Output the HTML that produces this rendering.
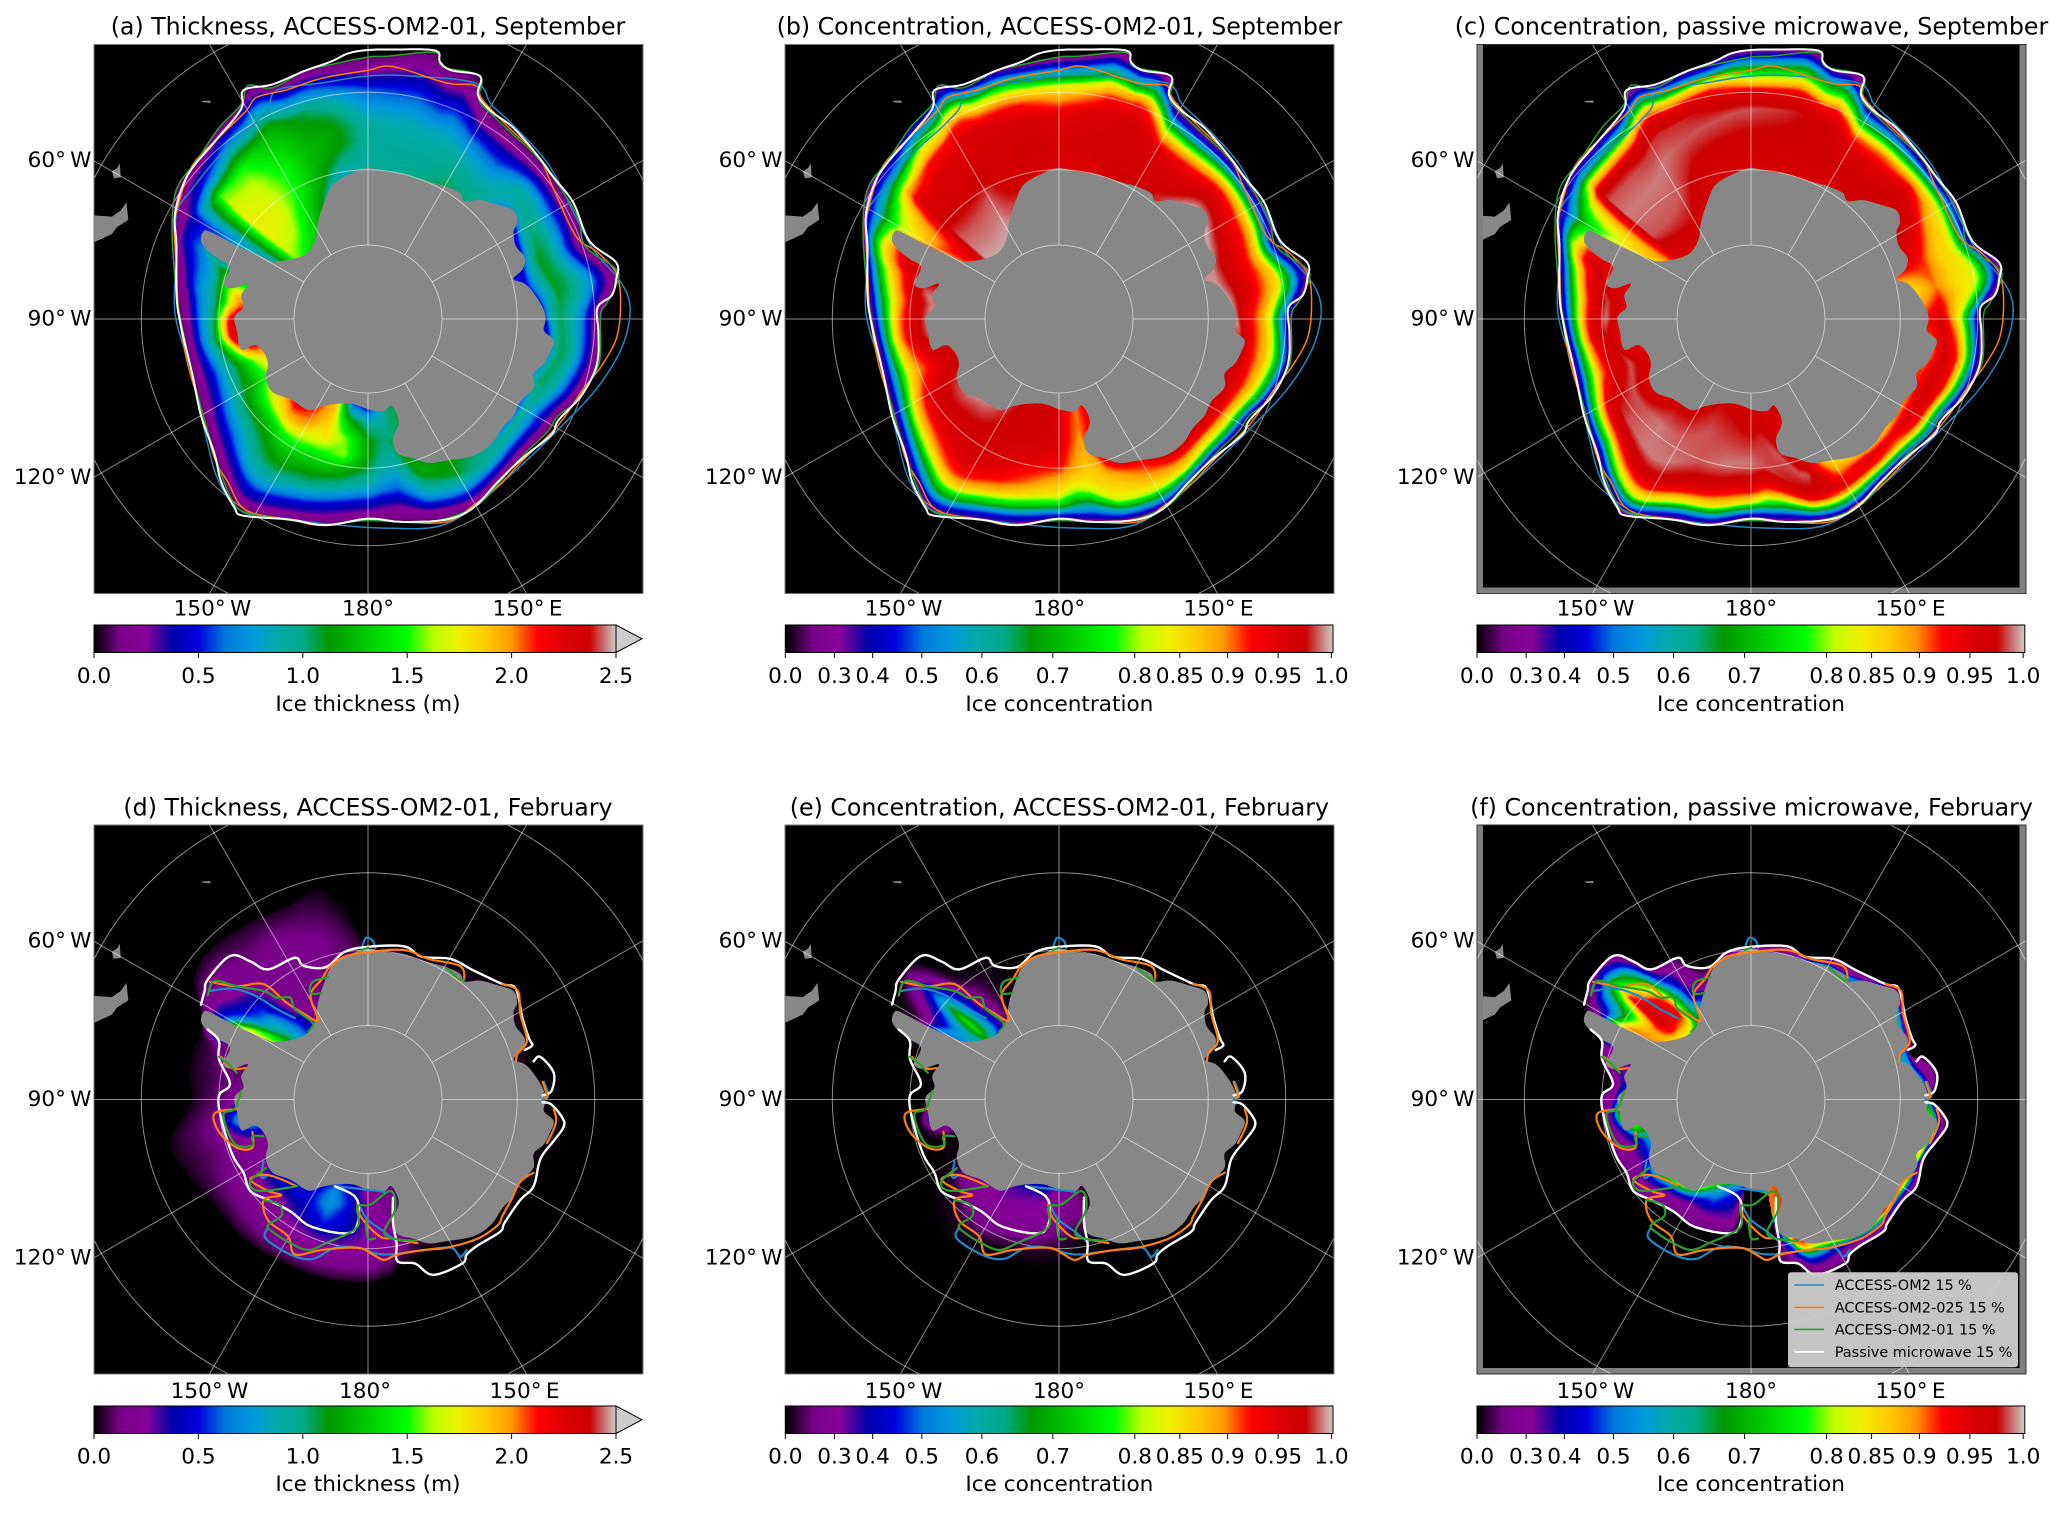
<!DOCTYPE html>
<html lang="en">
<head>
<meta charset="utf-8">
<title>Antarctic sea ice thickness and concentration maps</title>
<style>
html,body{margin:0;padding:0;background:#fff;overflow:hidden;}
#figure-root{position:relative;width:2067px;height:1513px;overflow:hidden;background:#fff;}
canvas{position:absolute;display:block;background:#000;}
#figure{position:absolute;left:0;top:0;display:block;}
text{font-family:"DejaVu Sans","Liberation Sans",sans-serif;fill:#000;}
.title{font-size:23.7px;text-anchor:middle;}
.label{font-size:21.6px;text-anchor:middle;}
.tick{font-size:21.6px;word-spacing:-0.12em;}
.legend-text{font-size:14.5px;word-spacing:-0.02em;}
</style>
</head>
<body>
<div id="figure-root">
<canvas id="field-a" width="549" height="550" style="left:94px;top:44px"></canvas>
<canvas id="field-b" width="549" height="550" style="left:785px;top:44px"></canvas>
<canvas id="field-c" width="549" height="550" style="left:1477px;top:44px"></canvas>
<canvas id="field-d" width="549" height="549" style="left:94px;top:825px"></canvas>
<canvas id="field-e" width="549" height="549" style="left:785px;top:825px"></canvas>
<canvas id="field-f" width="549" height="549" style="left:1477px;top:825px"></canvas>
<svg id="figure" width="2067" height="1513" viewBox="0 0 2067 1513" xmlns="http://www.w3.org/2000/svg">
  <defs id="defs"></defs>
  <g id="map-layer"></g>
  <g>
    <text class="title" x="368" y="34.6">(a) Thickness, ACCESS-OM2-01, September</text>
    <text class="title" x="1059.4" y="34.6">(b) Concentration, ACCESS-OM2-01, September</text>
    <text class="title" x="1751.5" y="34.6">(c) Concentration, passive microwave, September</text>
    <text class="title" x="368" y="815.6">(d) Thickness, ACCESS-OM2-01, February</text>
    <text class="title" x="1059.4" y="815.6">(e) Concentration, ACCESS-OM2-01, February</text>
    <text class="title" x="1751.5" y="815.6">(f) Concentration, passive microwave, February</text>
  </g>
  <g>
    <text class="label" x="368" y="711">Ice thickness (m)</text>
    <text class="label" x="1059.4" y="711">Ice concentration</text>
    <text class="label" x="1751" y="711">Ice concentration</text>
    <text class="label" x="368" y="1491">Ice thickness (m)</text>
    <text class="label" x="1059.4" y="1491">Ice concentration</text>
    <text class="label" x="1751" y="1491">Ice concentration</text>
  </g>
  <g>
    <rect x="1788" y="1272.3" width="230" height="95" rx="3" ry="3" fill="#cccccc" fill-opacity="0.96"/>
    <line x1="1794.3" x2="1824" y1="1285" y2="1285" stroke="#2088c8" stroke-width="1.6"/>
    <text class="legend-text" x="1834.7" y="1290">ACCESS-OM2 15 %</text>
    <line x1="1794.3" x2="1824" y1="1307.4" y2="1307.4" stroke="#ff7f0e" stroke-width="1.6"/>
    <text class="legend-text" x="1834.7" y="1312.4">ACCESS-OM2-025 15 %</text>
    <line x1="1794.3" x2="1824" y1="1329.4" y2="1329.4" stroke="#2ca02c" stroke-width="1.6"/>
    <text class="legend-text" x="1834.7" y="1334.4">ACCESS-OM2-01 15 %</text>
    <line x1="1794.3" x2="1824" y1="1351.8" y2="1351.8" stroke="#ffffff" stroke-width="1.8"/>
    <text class="legend-text" x="1834.7" y="1356.8">Passive microwave 15 %</text>
  </g>
</svg>
</div>
<script>
/* ---- colour scale and tick data ---- */
const cmapColors = ["#000000","#770088","#880099","#0000aa","#0000dd","#0077dd","#0099dd","#00aaaa","#00aa88","#009900","#00bb00","#00dd00","#00ff00","#bbff00","#eeee00","#ffcc00","#ff9900","#ff0000","#dd0000","#cc0000","#cccccc"];
const thicknessTicks = [0,0.5,1,1.5,2,2.5];
const thicknessTickLabels = ["0.0","0.5","1.0","1.5","2.0","2.5"];
const concentrationTicks = [0,0.3,0.4,0.5,0.6,0.7,0.8,0.85,0.9,0.95,1];
const concentrationTickLabels = ["0.0","0.3","0.4","0.5","0.6","0.7","0.8","0.85","0.9","0.95","1.0"];
const latCircles = [-80,-70,-60,-50];
const lonSpokes = [0,30,60,90,120,150,180,210,240,270,300,330];
const bottomLonTicks = [210,180,150];
const bottomLonLabels = ["150° W","180°","150° E"];
const leftLonTicks = [300,270,240];
const leftLonLabels = ["60° W","90° W","120° W"];

/* ---- geography, in map grid units (about 7 km each), pole at POLE_U / POLE_V ---- */
const landCoast = [[824,355],[860,362],[905,368],[935,378],[975,388],[1000,395],[1030,408],[1040,425],[1075,423],[1115,433],[1150,445],[1158,470],[1150,490],[1155,520],[1175,545],[1170,570],[1150,590],[1175,600],[1195,620],[1215,650],[1222,675],[1218,700],[1240,720],[1232,745],[1218,770],[1195,790],[1195,820],[1165,850],[1150,880],[1125,905],[1100,940],[1060,965],[1000,975],[960,980],[925,970],[890,960],[880,930],[892,900],[890,880],[875,858],[860,870],[830,868],[790,855],[750,855],[720,860],[690,868],[650,845],[610,830],[595,800],[600,770],[590,745],[570,730],[540,740],[530,700],[525,670],[545,650],[540,625],[555,600],[520,610],[500,600],[515,565],[490,548],[465,530],[450,510],[455,490],[470,490],[530,520],[590,545],[620,553],[680,540],[705,510],[712,470],[725,430],[745,390],[790,365],[824,355]];
const southAmerica = [[205,455],[250,458],[270,445],[283,428],[287,465],[262,480],[250,495],[205,515]];
const southGeorgia = [[250,362],[262,355],[268,345],[270,375],[255,377]];
const smallIsland = [[450,213],[470,212],[472,217],[455,216]];

/* ---- September 15% ice edges ---- */
const sepWhite = [[740,130],[780,112],[824,105],[880,104],[975,106],[985,130],[1010,148],[1075,160],[1070,200],[1100,235],[1150,270],[1205,330],[1240,375],[1285,430],[1320,510],[1380,555],[1380,590],[1370,625],[1338,650],[1340,700],[1340,750],[1330,790],[1300,840],[1250,890],[1235,920],[1170,970],[1115,1020],[1060,1075],[1000,1100],[900,1105],[824,1098],[730,1112],[650,1100],[545,1092],[525,1075],[495,1020],[480,960],[450,880],[430,790],[405,690],[395,625],[395,520],[392,450],[420,370],[480,300],[540,230],[545,190],[610,178],[680,150],[740,130]];
const sepGreen = [[745,135],[824,120],[870,118],[975,110],[990,140],[1075,160],[1072,210],[1100,240],[1150,285],[1210,340],[1290,450],[1310,520],[1375,565],[1385,590],[1360,640],[1345,665],[1345,740],[1335,785],[1290,850],[1250,880],[1225,915],[1170,965],[1115,1025],[1060,1075],[960,1105],[824,1102],[730,1110],[640,1100],[550,1085],[520,1060],[490,990],[455,880],[430,790],[405,680],[395,620],[385,490],[395,400],[440,340],[490,270],[540,220],[555,180],[610,185],[680,150],[745,135]];
const sepOrange = [[640,190],[720,165],[824,148],[880,140],[1000,175],[1065,180],[1080,210],[1140,270],[1205,330],[1240,400],[1290,500],[1340,535],[1385,590],[1385,700],[1350,770],[1305,825],[1250,900],[1170,975],[1115,1030],[1060,1070],[1000,1105],[900,1105],[824,1100],[720,1112],[650,1100],[550,1080],[510,1020],[480,970],[455,880],[420,770],[400,660],[395,560],[390,480],[400,430],[430,350],[490,290],[550,235],[575,205],[640,190]];
const sepBlue = [[620,190],[720,175],[824,160],[920,160],[1065,175],[1100,220],[1150,265],[1230,350],[1290,460],[1330,530],[1385,590],[1410,640],[1405,700],[1380,760],[1330,830],[1260,900],[1190,965],[1115,1030],[1060,1075],[980,1115],[860,1118],[760,1112],[650,1100],[545,1085],[490,1020],[460,920],[430,790],[400,700],[390,640],[395,540],[395,450],[430,400],[490,330],[560,270],[600,230],[620,190]];

/* ---- February 15% ice edges (several fragments each) ---- */
const febWhiteWest = [[465,505],[490,530],[490,570],[515,625],[490,650],[495,700],[520,780],[545,820],[560,860],[600,880],[650,905],[700,940],[790,950],[800,880],[750,850]];
const febWhiteEast = [[880,875],[880,930],[888,975],[890,1015],[930,1020],[970,1045],[1035,1020],[1045,1000],[1070,980],[1120,950],[1130,930],[1165,880],[1195,850],[1210,790],[1240,750],[1262,720],[1260,700],[1235,670],[1215,665]];
const febWhiteIsle = [[1215,650],[1235,640],[1240,600],[1210,565],[1195,575]];
const febWhiteNorth = [[1175,550],[1192,540],[1185,525],[1170,480],[1155,415],[1125,405],[1060,375],[1010,350],[945,345],[905,322],[824,323],[770,335],[730,368],[680,365],[660,347],[600,373],[560,355],[515,343],[465,395],[458,420],[450,450]];
const febOrangeNorth = [[735,370],[770,345],[824,335],[905,330],[960,350],[1030,365],[1040,395]];
const febOrangeNorthEast = [[1125,405],[1160,420],[1165,470],[1180,530],[1160,555],[1155,575]];
const febOrangeEastA = [[1215,620],[1225,650],[1220,655]];
const febOrangeEastB = [[1240,680],[1245,710],[1225,755]];
const febOrangeRoss = [[1195,820],[1165,840],[1145,880],[1125,915],[1115,935],[1070,965],[1000,985],[950,990],[890,1000],[860,1012],[835,1000],[800,985],[720,990],[660,1000],[645,960],[600,925],[590,880],[630,870],[600,860],[560,835],[600,825],[665,850]];
const febOrangeBell = [[530,680],[480,690],[490,730],[530,765],[565,765],[565,730]];
const febOrangeWeddell = [[470,400],[530,410],[590,405],[640,445],[680,470],[712,485],[695,430],[720,395],[735,370]];
const febOrangeInner = [[800,890],[810,920],[850,960],[880,965],[935,975]];
const febOrangePeninsula = [[495,565],[520,590],[550,590]];
const febGreenWeddell = [[465,430],[480,398],[530,410],[590,420],[620,435],[650,435],[660,460],[700,490],[690,510]];
const febGreenLoop = [[735,390],[700,400],[695,425],[720,425]];
const febGreenNorth = [[810,330],[825,325]];
const febGreenNorthEast = [[1000,370],[1030,395],[1040,395]];
const febGreenBell = [[540,640],[525,680],[500,690],[510,730],[530,760],[565,760],[565,740],[590,740]];
const febGreenAmundsen = [[595,810],[560,840],[580,860],[665,850]];
const febGreenRoss = [[590,880],[625,890],[630,915],[600,935],[610,950],[650,975],[690,990],[730,975],[800,940],[800,895],[830,890],[875,860],[885,900],[860,950],[880,965],[930,970]];
const febGreenInner = [[820,920],[820,940],[825,965],[840,965]];
const febGreenPeninsula = [[490,565],[510,580],[530,600]];
const febBlueNorth = [[812,320],[820,303],[835,310],[840,325]];
const febBlueWeddell = [[470,420],[520,415],[570,430],[620,460],[660,480]];
const febBlueRoss = [[600,940],[595,965],[650,1000],[700,1010],[750,985],[800,985],[860,1000],[950,990],[1010,985],[1030,1005],[1045,990]];
const febBlueInner = [[800,880],[820,920],[860,950],[885,970]];
const febBlueShelf = [[750,850],[800,855],[860,862]];
const febBlueEast = [[1218,620],[1228,650],[1215,660]];
const febBlueAmundsen = [[590,795],[585,830],[600,825]];

/* ---- outer limits of the February model fields ---- */
const hazeThicknessFeb = [[450,470],[435,390],[470,330],[560,270],[640,235],[710,195],[770,235],[810,300],[850,322],[1000,345],[1130,395],[1175,470],[1190,560],[1210,640],[1230,690],[1230,760],[1195,830],[1120,940],[1000,985],[900,1020],[880,1045],[820,1060],[720,1050],[620,1010],[540,960],[470,880],[400,800],[385,740],[430,660],[420,580],[450,510],[450,470]];
const hazeConcentrationFeb = [[459,470],[459,400],[499,360],[589,370],[679,320],[699,370],[729,400],[824,340],[1019,370],[1119,400],[1159,470],[1169,600],[1219,680],[1209,800],[1109,940],[979,980],[899,1000],[824,1030],[739,1030],[619,1000],[549,950],[499,850],[489,740],[499,700],[519,620],[479,540],[459,470]];

/* ---- gridded fields: one row per 10 degrees of longitude, from 0 eastward;
        one column per fraction of the way from coast to ice edge ---- */
const fractionsThicknessSep = [0,0.14,0.28,0.42,0.56,0.7,0.84,1];
const fractionsConcentrationSep = [0,0.25,0.5,0.65,0.75,0.85,0.92,1];
const fractionsFeb = [0,0.1,0.2,0.3,0.45,0.6,0.8,1];

const thicknessSep = [
[.95,.95,.95,.9,.75,.6,.3,.08],[.95,.95,.9,.85,.7,.5,.3,.1],[1,.95,.9,.85,.65,.45,.25,.08],[1.05,1,.95,.85,.7,.5,.25,.08],
[1,.95,.85,.75,.6,.45,.25,.08],[.7,.85,.9,.9,.75,.5,.25,.08],[.5,.95,1,.9,.7,.5,.25,.08],[.45,.9,1.1,1.05,.85,.6,.3,.08],
[.5,.85,1.1,1.05,.9,.7,.35,.1],[.45,.95,1.05,.95,.8,.6,.3,.08],[.6,1,1.05,.95,.75,.5,.25,.08],[.9,1.05,1,.9,.7,.5,.25,.08],
[.6,.9,.85,.7,.55,.4,.2,.08],[.7,.95,.9,.75,.55,.4,.2,.08],[1,.95,.95,.85,.65,.45,.25,.08],[1.15,1.1,1.1,.95,.8,.55,.3,.08],
[1.1,1.2,1.1,.95,.8,.55,.25,.08],[1,1.05,.95,.85,.7,.5,.25,.08],[.5,.95,1.15,1.15,1.05,.85,.45,.08],[.6,1.2,1.55,1.6,1.2,.9,.45,.08],
[1.9,1.85,1.8,1.45,1.2,.95,.5,.08],[2.1,2,1.6,1.3,1.1,.85,.45,.08],[2.2,1.9,1.4,1.15,1,.8,.4,.08],[1.8,1.55,1.25,1.05,.85,.6,.35,.08],
[1.5,1.3,1.15,1,.8,.55,.3,.08],[1.8,1.6,1.3,1.05,.85,.55,.3,.08],[2.3,2.1,1.6,1.1,.85,.6,.3,.08],[2.3,2.15,1.7,1,.8,.55,.25,.08],
[1.9,1.6,1.15,.9,.75,.55,.25,.08],[1,.9,.7,.6,.5,.4,.2,.08],[.8,.7,.6,.55,.5,.4,.2,.08],[1.6,1.7,1.75,1.75,1.7,1.55,.6,.08],
[1.4,1.6,1.7,1.7,1.65,1.5,.9,.08],[1.3,1.4,1.5,1.5,1.4,1.25,.85,.1],[1.05,1.2,1.25,1.25,1.2,1.1,.7,.1],[.8,1,1.15,1.15,1.05,.85,.5,.1]];

const concentrationModelSep = [
[.95,.96,.94,.88,.82,.6,.45,.25],[.95,.96,.95,.9,.82,.6,.45,.25],[.97,.96,.96,.94,.88,.65,.5,.28],[.97,.96,.95,.88,.78,.6,.45,.28],
[.98,.96,.94,.88,.78,.6,.45,.28],[.995,.97,.93,.87,.78,.6,.45,.28],[.995,.96,.92,.87,.78,.6,.45,.28],[.99,.96,.93,.88,.8,.6,.45,.28],
[.995,.96,.9,.85,.72,.55,.42,.3],[.995,.93,.88,.8,.65,.5,.4,.28],[.97,.92,.87,.8,.7,.55,.45,.3],[.97,.94,.88,.82,.72,.58,.45,.3],
[.97,.94,.87,.8,.7,.55,.45,.3],[.96,.93,.85,.8,.7,.55,.45,.3],[.96,.92,.87,.82,.72,.55,.45,.3],[.93,.9,.86,.8,.7,.55,.45,.3],
[.95,.88,.85,.82,.72,.55,.45,.28],[.9,.88,.86,.82,.72,.55,.45,.28],[.95,.96,.93,.88,.85,.76,.55,.3],[.97,.97,.94,.9,.85,.72,.5,.3],
[.97,.97,.95,.92,.87,.72,.5,.3],[.98,.97,.96,.92,.86,.7,.5,.3],[.99,.97,.95,.9,.82,.65,.5,.3],[.99,.97,.94,.88,.8,.62,.47,.3],
[.98,.97,.93,.87,.78,.6,.45,.3],[.97,.95,.9,.85,.75,.58,.45,.3],[.98,.96,.9,.83,.72,.55,.42,.28],[.99,.96,.9,.82,.7,.55,.42,.28],
[.99,.96,.88,.8,.7,.55,.42,.28],[.96,.92,.86,.78,.68,.52,.42,.28],[.9,.85,.8,.72,.62,.5,.4,.28],[.995,.985,.96,.94,.88,.7,.5,.3],
[.995,.985,.96,.95,.92,.82,.6,.35],[.995,.985,.96,.95,.92,.82,.6,.35],[.98,.96,.96,.95,.9,.8,.6,.35],[.96,.97,.96,.92,.86,.72,.5,.3]];

const concentrationObsSep = [
[.96,.97,.985,.95,.84,.68,.5,.28],[.96,.97,.98,.94,.84,.68,.5,.28],[.96,.97,.97,.93,.83,.68,.5,.28],[.96,.97,.95,.9,.8,.62,.47,.28],
[.97,.97,.94,.9,.8,.62,.47,.28],[.97,.97,.94,.87,.78,.6,.45,.28],[.97,.95,.88,.85,.78,.6,.45,.28],[.95,.92,.86,.85,.8,.65,.45,.28],
[.85,.9,.85,.84,.8,.65,.48,.3],[.93,.96,.88,.8,.68,.52,.42,.28],[.9,.96,.92,.85,.72,.55,.42,.28],[.92,.96,.94,.86,.74,.55,.42,.28],
[.9,.96,.93,.85,.72,.55,.42,.28],[.88,.94,.9,.84,.72,.55,.42,.28],[.88,.95,.92,.85,.74,.55,.42,.28],[.85,.9,.95,.88,.76,.58,.44,.28],
[.96,.985,.97,.93,.84,.62,.46,.28],[.96,.985,.98,.94,.85,.65,.46,.28],[.96,.975,.99,.97,.93,.84,.6,.28],[.97,.98,.99,.97,.92,.84,.6,.28],
[.975,.985,.985,.97,.93,.82,.55,.28],[.97,.985,.99,.97,.92,.82,.55,.28],[.97,.99,.99,.96,.9,.78,.52,.28],[.96,.985,.985,.95,.88,.72,.5,.28],
[.95,.985,.97,.94,.86,.72,.5,.28],[.95,.985,.95,.9,.82,.68,.48,.28],[.94,.97,.94,.88,.78,.62,.45,.28],[.95,.99,.95,.88,.78,.62,.45,.28],
[.95,.98,.94,.86,.76,.6,.45,.28],[.95,.96,.9,.84,.74,.58,.45,.28],[.85,.8,.75,.7,.62,.5,.42,.28],[.95,.985,.99,.985,.97,.84,.62,.3],
[.96,.985,.99,.985,.97,.85,.62,.3],[.97,.985,.99,.98,.96,.85,.6,.3],[.96,.97,.985,.98,.95,.84,.6,.3],[.96,.97,.985,.97,.94,.84,.55,.3]];

const thicknessFeb = [
[.03,.03,.03,.02,.02,.02,.01,0],[.03,.03,.03,.02,.01,0,0,0],[.03,.03,.02,.01,0,0,0,0],[.03,.03,.02,.01,0,0,0,0],
[.03,.03,.02,.01,0,0,0,0],[.03,.03,.02,.01,0,0,0,0],[.03,.03,.02,.01,0,0,0,0],[.03,.03,.02,.01,0,0,0,0],
[.03,.02,.01,0,0,0,0,0],[.02,.01,0,0,0,0,0,0],[.02,.01,0,0,0,0,0,0],[.02,.01,0,0,0,0,0,0],
[.02,.01,0,0,0,0,0,0],[.02,.01,0,0,0,0,0,0],[.03,.02,.01,0,0,0,0,0],[.04,.03,.02,.01,0,0,0,0],
[.05,.05,.05,.03,.02,.01,0,0],[.15,.15,.2,.22,.2,.2,.1,.02],[.2,.22,.25,.25,.25,.25,.18,.03],[.4,.45,.5,.45,.42,.3,.18,.03],
[.6,.7,.75,.65,.5,.3,.18,.03],[.45,.5,.45,.4,.3,.22,.15,.03],[.45,.45,.35,.25,.2,.17,.12,.03],[.45,.4,.3,.2,.17,.15,.1,.02],
[.2,.17,.17,.15,.15,.13,.08,.02],[.2,.2,.2,.15,.13,.1,.06,.02],[.8,.65,.4,.2,.12,.1,.06,.02],[.2,.15,.12,.1,.1,.08,.05,.02],
[.1,.1,.12,.1,.08,.06,.04,.01],[.1,.15,.12,.1,.08,.05,.03,.01],[1.7,1.3,1.1,.7,.5,.35,.15,.03],[.9,.85,.78,.6,.42,.22,.15,.03],
[.45,.42,.25,.17,.15,.15,.1,.03],[.15,.12,.12,.12,.15,.15,.12,.03],[.1,.12,.15,.15,.15,.12,.08,.02],[.08,.1,.1,.1,.08,.06,.03,.01]];

const concentrationModelFeb = [
[.03,.02,0,0,0,0,0,0],[.03,.02,0,0,0,0,0,0],[.03,.02,0,0,0,0,0,0],[.03,.02,0,0,0,0,0,0],
[.02,.01,0,0,0,0,0,0],[.02,.01,0,0,0,0,0,0],[.02,.01,0,0,0,0,0,0],[.02,.01,0,0,0,0,0,0],
[.01,0,0,0,0,0,0,0],[.01,0,0,0,0,0,0,0],[.01,0,0,0,0,0,0,0],[.01,0,0,0,0,0,0,0],
[.01,0,0,0,0,0,0,0],[.01,0,0,0,0,0,0,0],[.01,0,0,0,0,0,0,0],[.01,0,0,0,0,0,0,0],
[.03,.02,.01,0,0,0,0,0],[.25,.25,.2,.2,.15,.1,.05,0],[.28,.28,.28,.3,.28,.2,.1,.02],[.42,.38,.32,.32,.3,.25,.12,.02],
[.4,.35,.32,.32,.3,.25,.1,.02],[.33,.33,.32,.3,.28,.22,.1,.02],[.3,.3,.3,.28,.22,.15,.08,.02],[.25,.25,.22,.15,.1,.06,.04,.01],
[.1,.08,.08,.06,.05,.03,.02,0],[.05,.05,.04,.03,.02,.01,0,0],[.45,.42,.35,.3,.2,.1,.03,0],[.12,.1,.08,.06,.04,.02,0,0],
[.05,.05,.04,.03,.02,.01,0,0],[.05,.05,.04,.03,.02,.01,0,0],[.5,.4,.3,.25,.15,.1,.05,0],[.68,.74,.76,.74,.66,.52,.35,.15],
[.42,.44,.4,.34,.3,.25,.12,.02],[.1,.1,.12,.12,.1,.1,.06,.02],[.08,.08,.08,.06,.05,.04,.02,0],[.04,.04,.03,.02,.01,0,0,0]];

const concentrationObsFeb = [
[.35,.33,.3,.3,.3,.3,.28,.15],[.35,.33,.3,.3,.3,.3,.28,.15],[.4,.35,.32,.3,.3,.3,.28,.15],[.7,.55,.45,.35,.3,.3,.28,.15],
[.5,.45,.35,.3,.3,.3,.28,.15],[.45,.4,.35,.3,.3,.3,.28,.15],[.6,.5,.4,.35,.3,.3,.28,.15],[.5,.45,.35,.32,.3,.3,.28,.15],
[.6,.5,.42,.35,.3,.3,.28,.15],[.6,.55,.5,.42,.35,.3,.28,.15],[.92,.88,.8,.65,.5,.38,.3,.15],[.8,.7,.55,.45,.38,.32,.28,.15],
[.85,.8,.7,.55,.45,.35,.3,.15],[.92,.88,.8,.65,.5,.38,.3,.15],[.85,.7,.55,.45,.38,.32,.28,.15],[.85,.7,.55,.42,.35,.3,.28,.15],
[.92,.9,.87,.78,.55,.42,.3,.18],[.9,.86,.78,.58,.45,.38,.3,.2],[.3,.3,.28,.25,.2,.15,.1,.05],[.6,.5,.45,.42,.38,.35,.3,.2],
[.75,.6,.55,.5,.45,.35,.3,.2],[.8,.65,.55,.45,.35,.3,.28,.2],[.8,.7,.55,.45,.35,.3,.28,.2],[.7,.6,.5,.45,.35,.3,.28,.2],
[.45,.42,.35,.35,.32,.3,.28,.2],[.55,.5,.45,.4,.35,.3,.28,.2],[.85,.8,.7,.55,.42,.35,.3,.2],[.45,.45,.42,.35,.3,.3,.28,.2],
[.35,.33,.3,.3,.3,.28,.25,.15],[.3,.3,.3,.3,.3,.28,.25,.15],[.9,.85,.8,.7,.5,.35,.25,.1],[.85,.93,.96,.96,.96,.92,.75,.3],
[.8,.88,.92,.93,.9,.75,.5,.25],[.6,.55,.45,.4,.35,.3,.28,.2],[.2,.2,.2,.2,.2,.2,.15,.1],[.3,.3,.3,.3,.3,.28,.25,.1]];

/* ---- axis functions ---- */
const POLE_U = 824;
const POLE_V = {sep:675, feb:659};
const UNITS_PER_PX_X = 2.24;
const UNITS_PER_PX_Y = {sep:2.119, feb:2.2};
const STEREO_K = 846;
const DEG = Math.PI/180;
function relX(u){ return (u-POLE_U)/UNITS_PER_PX_X; }
function relY(v,season){ return (v-POLE_V[season])/UNITS_PER_PX_Y[season]; }
function radiusForLat(lat){ return STEREO_K*Math.tan((90+lat)/2*DEG); }
function thicknessNorm(v){ return Math.min(v/2.5,1); }
function concentrationNorm(c){ return Math.min(c*c,1); }
function hexRgb(h){ return [parseInt(h.slice(1,3),16),parseInt(h.slice(3,5),16),parseInt(h.slice(5,7),16)]; }
function colourAt(f){
  const p = Math.max(0,Math.min(1,f))*(cmapColors.length-1);
  const i = Math.min(Math.floor(p),cmapColors.length-2);
  const t = p-i, a = hexRgb(cmapColors[i]), b = hexRgb(cmapColors[i+1]);
  return [a[0]+(b[0]-a[0])*t,a[1]+(b[1]-a[1])*t,a[2]+(b[2]-a[2])*t];
}
/* Catmull-Rom densification so ice edges and coast read as curves */
function curve(pts){
  const closed = pts.length>3 && pts[0][0]===pts[pts.length-1][0] && pts[0][1]===pts[pts.length-1][1];
  const n = pts.length, out = [];
  const at = function(i){
    if(closed){ const m=n-1; return pts[((i%m)+m)%m]; }
    return pts[Math.max(0,Math.min(n-1,i))];
  };
  for(let i=0;i<n-1;i++){
    const p0=at(i-1),p1=at(i),p2=at(i+1),p3=at(i+2);
    for(let k=0;k<5;k++){
      const t=k/5,t2=t*t,t3=t2*t;
      out.push([
        0.5*(2*p1[0]+(p2[0]-p0[0])*t+(2*p0[0]-5*p1[0]+4*p2[0]-p3[0])*t2+(3*p1[0]-p0[0]-3*p2[0]+p3[0])*t3),
        0.5*(2*p1[1]+(p2[1]-p0[1])*t+(2*p0[1]-5*p1[1]+4*p2[1]-p3[1])*t2+(3*p1[1]-p0[1]-3*p2[1]+p3[1])*t3)
      ]);
    }
  }
  out.push(pts[n-1]);
  return out;
}
function rayTable(poly,season){
  const pts = poly.map(function(p){ return [relX(p[0]),relY(p[1],season)]; });
  const table = new Float32Array(720);
  let last = 0;
  for(let i=0;i<720;i++){
    const dx = Math.sin(i/2*DEG), dy = -Math.cos(i/2*DEG);
    let best = 0;
    for(let k=0;k<pts.length-1;k++){
      const ax=pts[k][0], ay=pts[k][1], ex=pts[k+1][0]-ax, ey=pts[k+1][1]-ay;
      const den = dx*ey-dy*ex;
      if(Math.abs(den)<1e-9) continue;
      const t=(ax*ey-ay*ex)/den, w=(ax*dy-ay*dx)/den;
      if(w>=0&&w<=1&&t>0&&t>best) best=t;
    }
    if(best===0) best=last;
    table[i]=best; last=best;
  }
  return table;
}
function smoothTable(table,halfWindow){
  const out = new Float32Array(720);
  for(let i=0;i<720;i++){
    let sum=0;
    for(let k=-halfWindow;k<=halfWindow;k++) sum+=table[(i+k+720)%720];
    out[i]=sum/(2*halfWindow+1);
  }
  return out;
}
const landCurve = curve(landCoast);
const coastTable = rayTable(landCurve,'sep');
const coastSmooth = smoothTable(coastTable,12);
function paintField(canvas,rows,fractions,norm,edgeTable,cx,cy){
  const ctx = canvas.getContext('2d');
  const w = canvas.width, h = canvas.height;
  const img = ctx.createImageData(w,h);
  const d = img.data;
  const edgeSmooth = smoothTable(edgeTable,6);
  for(let y=0;y<h;y++){
    for(let x=0;x<w;x++){
      const o=(y*w+x)*4;
      d[o+3]=255;
      const dx=x+0.5-cx, dy=y+0.5-cy, r=Math.hypot(dx,dy);
      let b=Math.atan2(dx,-dy)/DEG; if(b<0) b+=360;
      const idx=Math.round(b*2)%720;
      const edge=edgeTable[idx];
      if(r>edge||edge<=coastTable[idx]) continue;
      const cs=coastSmooth[idx], es=Math.max(edgeSmooth[idx],cs+6);
      const s=Math.max(0,Math.min(1,(r-cs)/(es-cs)));
      let k=0; while(k<fractions.length-2&&s>fractions[k+1]) k++;
      const ts=(s-fractions[k])/(fractions[k+1]-fractions[k]);
      const rowPos=b/10, i0=Math.floor(rowPos)%36, i1=(i0+1)%36, tb=rowPos-Math.floor(rowPos);
      const v0=rows[i0][k]+(rows[i0][k+1]-rows[i0][k])*ts;
      const v1=rows[i1][k]+(rows[i1][k+1]-rows[i1][k])*ts;
      const v=v0+(v1-v0)*tb;
      if(v<=0) continue;
      const c=colourAt(norm(v));
      d[o]=c[0]; d[o+1]=c[1]; d[o+2]=c[2];
    }
  }
  ctx.putImageData(img,0,0);
}

/* ---- svg helpers ---- */
const SVGNS='http://www.w3.org/2000/svg';
function make(tag,attrs,parent){
  const el=document.createElementNS(SVGNS,tag);
  for(const k in attrs) el.setAttribute(k,attrs[k]);
  parent.appendChild(el);
  return el;
}
function pointsFor(poly,season,cx,cy){
  return poly.map(function(p){ return (cx+relX(p[0])).toFixed(1)+','+(cy+relY(p[1],season)).toFixed(1); }).join(' ');
}
const defs=document.getElementById('defs');
const grad=make('linearGradient',{id:'spectral',x1:'0',x2:'1',y1:'0',y2:'0'},defs);
cmapColors.forEach(function(c,i){
  make('stop',{offset:(i/(cmapColors.length-1)).toFixed(3),'stop-color':c},grad);
});

const febWhite=[febWhiteWest,febWhiteEast,febWhiteIsle,febWhiteNorth];
const febOrange=[febOrangeNorth,febOrangeNorthEast,febOrangeEastA,febOrangeEastB,febOrangeRoss,febOrangeBell,febOrangeWeddell,febOrangeInner,febOrangePeninsula];
const febGreen=[febGreenWeddell,febGreenLoop,febGreenNorth,febGreenNorthEast,febGreenBell,febGreenAmundsen,febGreenRoss,febGreenInner,febGreenPeninsula];
const febBlue=[febBlueNorth,febBlueWeddell,febBlueRoss,febBlueInner,febBlueShelf,febBlueEast,febBlueAmundsen];
const febObsEdge=[].concat(febWhiteWest,febWhiteEast,febWhiteIsle,febWhiteNorth,[febWhiteWest[0]]);

const panels=[
 {id:'a',left:94,top:44.5,canvasTop:44,season:'sep',kind:'thickness',rows:thicknessSep,fractions:fractionsThicknessSep,edge:sepGreen,band:false,barLeft:94,barRight:616,tickDx:0},
 {id:'b',left:785,top:44.5,canvasTop:44,season:'sep',kind:'concentration',rows:concentrationModelSep,fractions:fractionsConcentrationSep,edge:sepGreen,band:false,barLeft:785.3,barRight:1333,tickDx:0},
 {id:'c',left:1477,top:44.5,canvasTop:44,season:'sep',kind:'concentration',rows:concentrationObsSep,fractions:fractionsConcentrationSep,edge:sepWhite,band:true,barLeft:1477,barRight:2024.8,tickDx:0},
 {id:'d',left:94,top:825,canvasTop:825,season:'feb',kind:'thickness',rows:thicknessFeb,fractions:fractionsFeb,edge:hazeThicknessFeb,band:false,barLeft:94,barRight:616,tickDx:-3},
 {id:'e',left:785,top:825,canvasTop:825,season:'feb',kind:'concentration',rows:concentrationModelFeb,fractions:fractionsFeb,edge:hazeConcentrationFeb,band:false,barLeft:785.3,barRight:1333,tickDx:0},
 {id:'f',left:1477,top:825,canvasTop:825,season:'feb',kind:'concentration',rows:concentrationObsFeb,fractions:fractionsFeb,edge:febObsEdge,band:true,barLeft:1477,barRight:2024.8,tickDx:0}
];
const AXW=549, AXH=549;
const layer=document.getElementById('map-layer');

function drawContours(group,segments,season,cx,cy,colour,width,name){
  segments.forEach(function(seg){
    const line=make('polyline',{points:pointsFor(curve(seg),season,cx,cy),fill:'none',stroke:colour,'stroke-width':width,'stroke-linejoin':'round','stroke-linecap':'round'},group);
    
    
  });
}

panels.forEach(function(p){
  const cx=p.left+274, cy=p.top+AXH/2;
  const norm=p.kind==='thickness'?thicknessNorm:concentrationNorm;
  paintField(document.getElementById('field-'+p.id),p.rows,p.fractions,norm,rayTable(curve(p.edge),p.season),274,cy-p.canvasTop);

  const clip=make('clipPath',{id:'clip-'+p.id},defs);
  make('rect',{x:p.left,y:p.top,width:AXW,height:AXH},clip);

  const g=make('g',{},layer);
  
  
  const inner=make('g',{'clip-path':'url(#clip-'+p.id+')'},g);

  [landCurve,southAmerica,southGeorgia,smallIsland].forEach(function(poly){
    const land=make('polygon',{points:pointsFor(poly,'sep',cx,cy),fill:'#878787'},inner);
    
    
  });

  if(p.band){
    [[p.left,p.top,6,AXH],[p.left+AXW-6.5,p.top,6.5,AXH],[p.left,p.top+AXH-6,AXW,6]].forEach(function(b){
      const band=make('rect',{x:b[0],y:b[1],width:b[2],height:b[3],fill:'#808080'},inner);
      
      
    });
  }

  latCircles.forEach(function(lat){
    const circle=make('circle',{cx:cx,cy:cy,r:radiusForLat(lat).toFixed(1),fill:'none',stroke:'#ffffff','stroke-opacity':0.55,'stroke-width':1},inner);
    
    
  });
  lonSpokes.forEach(function(lon){
    const sx=Math.sin(lon*DEG), sy=-Math.cos(lon*DEG);
    const r0=radiusForLat(latCircles[0]);
    const r1=Math.min(Math.abs(sx)>1e-6?(AXW/2)/Math.abs(sx):1e6,Math.abs(sy)>1e-6?(AXH/2)/Math.abs(sy):1e6);
    const spoke=make('line',{x1:cx+r0*sx,y1:cy+r0*sy,x2:cx+r1*sx,y2:cy+r1*sy,stroke:'#ffffff','stroke-opacity':0.55,'stroke-width':1},inner);
    
    
  });

  const isSep=p.season==='sep';
  const thin=isSep?1.5:2.2, thick=isSep?2:2.4;
  drawContours(inner,isSep?[sepBlue]:febBlue,p.season,cx,cy,'#2088c8',thin,'ice-edge-access-om2');
  if(!isSep) drawContours(inner,febWhite,p.season,cx,cy,'#ffffff',thick,'ice-edge-passive-microwave');
  drawContours(inner,isSep?[sepOrange]:febOrange,p.season,cx,cy,'#ff7f0e',thin,'ice-edge-access-om2-025');
  drawContours(inner,isSep?[sepGreen]:febGreen,p.season,cx,cy,'#2ca02c',thin,'ice-edge-access-om2-01');
  if(isSep) drawContours(inner,[sepWhite],p.season,cx,cy,'#ffffff',thick,'ice-edge-passive-microwave');

  const frame=make('rect',{x:p.left,y:p.top,width:AXW,height:AXH,fill:'none',stroke:p.band?'#333333':'#777777','stroke-width':1},g);
  
  

  /* longitude labels */
  const isTop=p.canvasTop===44;
  const bottomBase=isTop?615.6:1397.9;
  bottomLonTicks.forEach(function(lon,i){
    const off=[3,0,1][i];
    const lx=cx+(AXH/2)*Math.tan((lon-180)*DEG)*-1+off+p.tickDx;
    const t=make('text',{class:'tick',x:lx.toFixed(1),y:bottomBase,'text-anchor':'middle'},g);
    t.textContent=bottomLonLabels[i];
    
    
  });
  leftLonTicks.forEach(function(lon,i){
    const y=cy+(AXH/2)*(-Math.cos(lon*DEG))/Math.abs(Math.sin(lon*DEG))-1.6+7.9;
    const t=make('text',{class:'tick',x:p.left-2.5,y:y.toFixed(1),'text-anchor':'end'},g);
    t.textContent=leftLonLabels[i];
    
    
  });

  /* colour bar */
  const barTop=isTop?625:1406, barH=27.5, barW=p.barRight-p.barLeft;
  const bar=make('g',{},g);
  
  
  const fill=make('rect',{x:p.barLeft,y:barTop,width:barW,height:barH,fill:'url(#spectral)'},bar);
  
  
  if(p.kind==='thickness'){
    const tri=make('polygon',{points:p.barRight+','+barTop+' '+(p.barRight+26)+','+(barTop+barH/2)+' '+p.barRight+','+(barTop+barH),fill:'#cccccc',stroke:'#000','stroke-width':1},bar);
    
    
  }
  const outline=make('rect',{x:p.barLeft,y:barTop,width:barW,height:barH,fill:'none',stroke:'#000','stroke-width':1},bar);
  
  
  const ticks=p.kind==='thickness'?thicknessTicks:concentrationTicks;
  const labels=p.kind==='thickness'?thicknessTickLabels:concentrationTickLabels;
  const base=isTop?683.2:1463.6;
  ticks.forEach(function(v,i){
    const x=p.barLeft+barW*norm(v)*(p.kind==='thickness'?1:0.997);
    const tk=make('line',{x1:x,x2:x,y1:barTop+barH,y2:barTop+barH+5.5,stroke:'#000','stroke-width':1},bar);
    
    
    const t=make('text',{class:'tick',x:x.toFixed(1),y:base,'text-anchor':'middle'},bar);
    t.textContent=labels[i];
    
    
  });
});
</script>
</body>
</html>
